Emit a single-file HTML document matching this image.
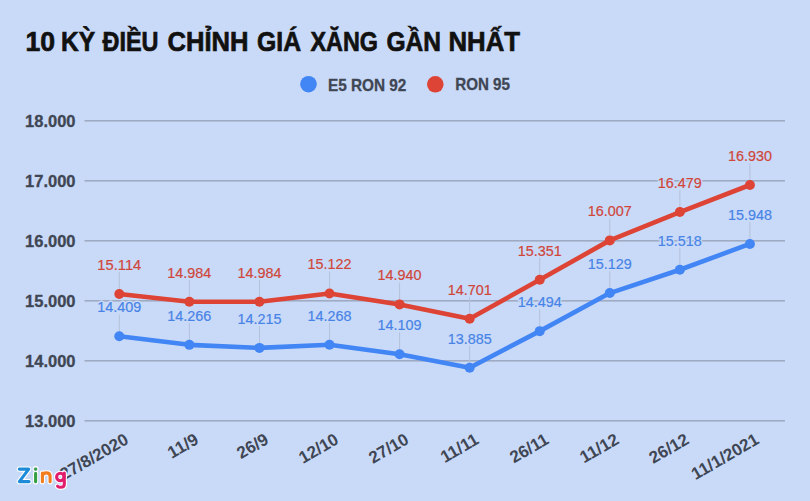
<!DOCTYPE html>
<html><head><meta charset="utf-8">
<style>
html,body{margin:0;padding:0;background:#c9daf8;}
body{width:810px;height:501px;overflow:hidden;position:relative;}
svg{position:absolute;left:0;top:0;}
text{font-family:"Liberation Sans",sans-serif;}
.title{font-size:28px;font-weight:bold;fill:#111;stroke:#111;stroke-width:0.7px;}
.yl{font-size:16.5px;font-weight:bold;fill:#3f4654;stroke:#3f4654;stroke-width:0.3px;}
.lg{font-size:16.5px;font-weight:bold;fill:#3f4654;stroke:#3f4654;stroke-width:0.3px;}
.dla{font-size:15.5px;fill:#c9daf8;stroke:#c9daf8;stroke-width:3px;stroke-linejoin:round;}
.dl{font-size:15.5px;stroke-width:0.2px;}
.xl{font-size:17px;font-weight:bold;fill:#3f4654;}
</style></head>
<body>
<svg width="810" height="501" viewBox="0 0 810 501">
<text x="25.5" y="50.6" class="title" textLength="29.64" lengthAdjust="spacingAndGlyphs">10</text><text x="61.0" y="50.6" class="title" textLength="34.08" lengthAdjust="spacingAndGlyphs">KỲ</text><text x="102.5" y="50.6" class="title" textLength="56.04" lengthAdjust="spacingAndGlyphs">ĐIỀU</text><text x="167.5" y="50.6" class="title" textLength="81.05" lengthAdjust="spacingAndGlyphs">CHỈNH</text><text x="257.0" y="50.6" class="title" textLength="44.05" lengthAdjust="spacingAndGlyphs">GIÁ</text><text x="310.5" y="50.6" class="title" textLength="67.52" lengthAdjust="spacingAndGlyphs">XĂNG</text><text x="386.5" y="50.6" class="title" textLength="54.57" lengthAdjust="spacingAndGlyphs">GẦN</text><text x="448.5" y="50.6" class="title" textLength="71.52" lengthAdjust="spacingAndGlyphs">NHẤT</text>
<circle cx="308.5" cy="84.2" r="8.3" fill="#4285f4"/>
<text x="327.9" y="90.7" class="lg" textLength="78.5" lengthAdjust="spacingAndGlyphs">E5 RON 92</text>
<circle cx="435.3" cy="84.3" r="8.3" fill="#dd4435"/>
<text x="455.2" y="90.4" class="lg" textLength="54.8" lengthAdjust="spacingAndGlyphs">RON 95</text>
<rect x="84.5" y="420.00" width="700.5" height="1.6" fill="#9fabc3"/>
<text x="75.5" y="427.40" text-anchor="end" class="yl">13.000</text>
<rect x="84.5" y="360.00" width="700.5" height="1.6" fill="#9fabc3"/>
<text x="75.5" y="367.40" text-anchor="end" class="yl">14.000</text>
<rect x="84.5" y="300.00" width="700.5" height="1.6" fill="#9fabc3"/>
<text x="75.5" y="307.40" text-anchor="end" class="yl">15.000</text>
<rect x="84.5" y="240.00" width="700.5" height="1.6" fill="#9fabc3"/>
<text x="75.5" y="247.40" text-anchor="end" class="yl">16.000</text>
<rect x="84.5" y="180.00" width="700.5" height="1.6" fill="#9fabc3"/>
<text x="75.5" y="187.40" text-anchor="end" class="yl">17.000</text>
<rect x="84.5" y="120.00" width="700.5" height="1.6" fill="#9fabc3"/>
<text x="75.5" y="127.40" text-anchor="end" class="yl">18.000</text>
<rect x="118.80" y="272.16" width="1" height="21.80" fill="#b4c1da"/>
<rect x="188.87" y="279.96" width="1" height="21.80" fill="#b4c1da"/>
<rect x="258.94" y="279.96" width="1" height="21.80" fill="#b4c1da"/>
<rect x="329.01" y="271.68" width="1" height="21.80" fill="#b4c1da"/>
<rect x="399.08" y="282.60" width="1" height="21.80" fill="#b4c1da"/>
<rect x="469.15" y="296.94" width="1" height="21.80" fill="#b4c1da"/>
<rect x="539.22" y="257.94" width="1" height="21.80" fill="#b4c1da"/>
<rect x="609.29" y="218.58" width="1" height="21.80" fill="#b4c1da"/>
<rect x="679.36" y="190.26" width="1" height="21.80" fill="#b4c1da"/>
<rect x="749.43" y="163.20" width="1" height="21.80" fill="#b4c1da"/>
<rect x="118.80" y="314.46" width="1" height="21.80" fill="#b4c1da"/>
<rect x="188.87" y="323.04" width="1" height="21.80" fill="#b4c1da"/>
<rect x="258.94" y="326.10" width="1" height="21.80" fill="#b4c1da"/>
<rect x="329.01" y="322.92" width="1" height="21.80" fill="#b4c1da"/>
<rect x="399.08" y="332.46" width="1" height="21.80" fill="#b4c1da"/>
<rect x="469.15" y="345.90" width="1" height="21.80" fill="#b4c1da"/>
<rect x="539.22" y="309.36" width="1" height="21.80" fill="#b4c1da"/>
<rect x="609.29" y="271.26" width="1" height="21.80" fill="#b4c1da"/>
<rect x="679.36" y="247.92" width="1" height="21.80" fill="#b4c1da"/>
<rect x="749.43" y="222.12" width="1" height="21.80" fill="#b4c1da"/>
<polyline points="119.30,336.26 189.37,344.84 259.44,347.90 329.51,344.72 399.58,354.26 469.65,367.70 539.72,331.16 609.79,293.06 679.86,269.72 749.93,243.92" fill="none" stroke="#4285f4" stroke-width="4.6" stroke-linejoin="round" stroke-linecap="round"/><circle cx="119.30" cy="336.26" r="5" fill="#4285f4"/><circle cx="189.37" cy="344.84" r="5" fill="#4285f4"/><circle cx="259.44" cy="347.90" r="5" fill="#4285f4"/><circle cx="329.51" cy="344.72" r="5" fill="#4285f4"/><circle cx="399.58" cy="354.26" r="5" fill="#4285f4"/><circle cx="469.65" cy="367.70" r="5" fill="#4285f4"/><circle cx="539.72" cy="331.16" r="5" fill="#4285f4"/><circle cx="609.79" cy="293.06" r="5" fill="#4285f4"/><circle cx="679.86" cy="269.72" r="5" fill="#4285f4"/><circle cx="749.93" cy="243.92" r="5" fill="#4285f4"/>
<polyline points="119.30,293.96 189.37,301.76 259.44,301.76 329.51,293.48 399.58,304.40 469.65,318.74 539.72,279.74 609.79,240.38 679.86,212.06 749.93,185.00" fill="none" stroke="#dd4435" stroke-width="4.6" stroke-linejoin="round" stroke-linecap="round"/><circle cx="119.30" cy="293.96" r="5" fill="#dd4435"/><circle cx="189.37" cy="301.76" r="5" fill="#dd4435"/><circle cx="259.44" cy="301.76" r="5" fill="#dd4435"/><circle cx="329.51" cy="293.48" r="5" fill="#dd4435"/><circle cx="399.58" cy="304.40" r="5" fill="#dd4435"/><circle cx="469.65" cy="318.74" r="5" fill="#dd4435"/><circle cx="539.72" cy="279.74" r="5" fill="#dd4435"/><circle cx="609.79" cy="240.38" r="5" fill="#dd4435"/><circle cx="679.86" cy="212.06" r="5" fill="#dd4435"/><circle cx="749.93" cy="185.00" r="5" fill="#dd4435"/>
<text x="119.30" y="269.96" text-anchor="middle" class="dla" textLength="44" lengthAdjust="spacingAndGlyphs">15.114</text>
<text x="189.37" y="277.76" text-anchor="middle" class="dla" textLength="44" lengthAdjust="spacingAndGlyphs">14.984</text>
<text x="259.44" y="277.76" text-anchor="middle" class="dla" textLength="44" lengthAdjust="spacingAndGlyphs">14.984</text>
<text x="329.51" y="269.48" text-anchor="middle" class="dla" textLength="44" lengthAdjust="spacingAndGlyphs">15.122</text>
<text x="399.58" y="280.40" text-anchor="middle" class="dla" textLength="44" lengthAdjust="spacingAndGlyphs">14.940</text>
<text x="469.65" y="294.74" text-anchor="middle" class="dla" textLength="44" lengthAdjust="spacingAndGlyphs">14.701</text>
<text x="539.72" y="255.74" text-anchor="middle" class="dla" textLength="44" lengthAdjust="spacingAndGlyphs">15.351</text>
<text x="609.79" y="216.38" text-anchor="middle" class="dla" textLength="44" lengthAdjust="spacingAndGlyphs">16.007</text>
<text x="679.86" y="188.06" text-anchor="middle" class="dla" textLength="44" lengthAdjust="spacingAndGlyphs">16.479</text>
<text x="749.93" y="161.00" text-anchor="middle" class="dla" textLength="44" lengthAdjust="spacingAndGlyphs">16.930</text>
<text x="119.30" y="312.26" text-anchor="middle" class="dla" textLength="44" lengthAdjust="spacingAndGlyphs">14.409</text>
<text x="189.37" y="320.84" text-anchor="middle" class="dla" textLength="44" lengthAdjust="spacingAndGlyphs">14.266</text>
<text x="259.44" y="323.90" text-anchor="middle" class="dla" textLength="44" lengthAdjust="spacingAndGlyphs">14.215</text>
<text x="329.51" y="320.72" text-anchor="middle" class="dla" textLength="44" lengthAdjust="spacingAndGlyphs">14.268</text>
<text x="399.58" y="330.26" text-anchor="middle" class="dla" textLength="44" lengthAdjust="spacingAndGlyphs">14.109</text>
<text x="469.65" y="343.70" text-anchor="middle" class="dla" textLength="44" lengthAdjust="spacingAndGlyphs">13.885</text>
<text x="539.72" y="307.16" text-anchor="middle" class="dla" textLength="44" lengthAdjust="spacingAndGlyphs">14.494</text>
<text x="609.79" y="269.06" text-anchor="middle" class="dla" textLength="44" lengthAdjust="spacingAndGlyphs">15.129</text>
<text x="679.86" y="245.72" text-anchor="middle" class="dla" textLength="44" lengthAdjust="spacingAndGlyphs">15.518</text>
<text x="749.93" y="219.92" text-anchor="middle" class="dla" textLength="44" lengthAdjust="spacingAndGlyphs">15.948</text>
<text x="119.30" y="269.96" text-anchor="middle" class="dl" fill="#cf463a" stroke="#cf463a" textLength="44" lengthAdjust="spacingAndGlyphs">15.114</text>
<text x="189.37" y="277.76" text-anchor="middle" class="dl" fill="#cf463a" stroke="#cf463a" textLength="44" lengthAdjust="spacingAndGlyphs">14.984</text>
<text x="259.44" y="277.76" text-anchor="middle" class="dl" fill="#cf463a" stroke="#cf463a" textLength="44" lengthAdjust="spacingAndGlyphs">14.984</text>
<text x="329.51" y="269.48" text-anchor="middle" class="dl" fill="#cf463a" stroke="#cf463a" textLength="44" lengthAdjust="spacingAndGlyphs">15.122</text>
<text x="399.58" y="280.40" text-anchor="middle" class="dl" fill="#cf463a" stroke="#cf463a" textLength="44" lengthAdjust="spacingAndGlyphs">14.940</text>
<text x="469.65" y="294.74" text-anchor="middle" class="dl" fill="#cf463a" stroke="#cf463a" textLength="44" lengthAdjust="spacingAndGlyphs">14.701</text>
<text x="539.72" y="255.74" text-anchor="middle" class="dl" fill="#cf463a" stroke="#cf463a" textLength="44" lengthAdjust="spacingAndGlyphs">15.351</text>
<text x="609.79" y="216.38" text-anchor="middle" class="dl" fill="#cf463a" stroke="#cf463a" textLength="44" lengthAdjust="spacingAndGlyphs">16.007</text>
<text x="679.86" y="188.06" text-anchor="middle" class="dl" fill="#cf463a" stroke="#cf463a" textLength="44" lengthAdjust="spacingAndGlyphs">16.479</text>
<text x="749.93" y="161.00" text-anchor="middle" class="dl" fill="#cf463a" stroke="#cf463a" textLength="44" lengthAdjust="spacingAndGlyphs">16.930</text>
<text x="119.30" y="312.26" text-anchor="middle" class="dl" fill="#4783e6" stroke="#4783e6" textLength="44" lengthAdjust="spacingAndGlyphs">14.409</text>
<text x="189.37" y="320.84" text-anchor="middle" class="dl" fill="#4783e6" stroke="#4783e6" textLength="44" lengthAdjust="spacingAndGlyphs">14.266</text>
<text x="259.44" y="323.90" text-anchor="middle" class="dl" fill="#4783e6" stroke="#4783e6" textLength="44" lengthAdjust="spacingAndGlyphs">14.215</text>
<text x="329.51" y="320.72" text-anchor="middle" class="dl" fill="#4783e6" stroke="#4783e6" textLength="44" lengthAdjust="spacingAndGlyphs">14.268</text>
<text x="399.58" y="330.26" text-anchor="middle" class="dl" fill="#4783e6" stroke="#4783e6" textLength="44" lengthAdjust="spacingAndGlyphs">14.109</text>
<text x="469.65" y="343.70" text-anchor="middle" class="dl" fill="#4783e6" stroke="#4783e6" textLength="44" lengthAdjust="spacingAndGlyphs">13.885</text>
<text x="539.72" y="307.16" text-anchor="middle" class="dl" fill="#4783e6" stroke="#4783e6" textLength="44" lengthAdjust="spacingAndGlyphs">14.494</text>
<text x="609.79" y="269.06" text-anchor="middle" class="dl" fill="#4783e6" stroke="#4783e6" textLength="44" lengthAdjust="spacingAndGlyphs">15.129</text>
<text x="679.86" y="245.72" text-anchor="middle" class="dl" fill="#4783e6" stroke="#4783e6" textLength="44" lengthAdjust="spacingAndGlyphs">15.518</text>
<text x="749.93" y="219.92" text-anchor="middle" class="dl" fill="#4783e6" stroke="#4783e6" textLength="44" lengthAdjust="spacingAndGlyphs">15.948</text>
<text transform="translate(129.60,442.80) rotate(-30)" text-anchor="end" class="xl">27/8/2020</text>
<text transform="translate(199.67,442.80) rotate(-30)" text-anchor="end" class="xl">11/9</text>
<text transform="translate(269.74,442.80) rotate(-30)" text-anchor="end" class="xl">26/9</text>
<text transform="translate(339.81,442.80) rotate(-30)" text-anchor="end" class="xl">12/10</text>
<text transform="translate(409.88,442.80) rotate(-30)" text-anchor="end" class="xl">27/10</text>
<text transform="translate(479.95,442.80) rotate(-30)" text-anchor="end" class="xl">11/11</text>
<text transform="translate(550.02,442.80) rotate(-30)" text-anchor="end" class="xl">26/11</text>
<text transform="translate(620.09,442.80) rotate(-30)" text-anchor="end" class="xl">11/12</text>
<text transform="translate(690.16,442.80) rotate(-30)" text-anchor="end" class="xl">26/12</text>
<text transform="translate(760.23,442.80) rotate(-30)" text-anchor="end" class="xl">11/1/2021</text>
<g id="zing" fill="none" stroke-linecap="round" stroke-linejoin="round">
<g stroke="#ffffff" stroke-width="5.2">
<path d="M19.3,469.1 H28.7 L19.3,481.6 H29.1"/>
<path d="M35.6,473.4 V481.8"/><circle cx="35.6" cy="469.1" r="0.4"/>
<path d="M42.4,481.8 V473 M42.4,476.2 Q42.6,472.9 46.3,472.9 Q50.1,472.9 50.1,476.2 V481.8"/>
<circle cx="60.3" cy="477" r="3.7"/><path d="M64.3,473 V484.2 Q64.3,487.3 60.8,487.3 Q58.6,487.3 57.6,486.2"/>
</g>
<path stroke="#1d8bd8" stroke-width="3.1" d="M19.3,469.1 H28.7 L19.3,481.6 H29.1"/>
<path stroke="#34a043" stroke-width="3.1" d="M35.6,473.4 V481.8"/><circle fill="#34a043" cx="35.6" cy="469.1" r="1.6"/>
<path stroke="#f27d1f" stroke-width="3.1" d="M42.4,481.8 V473 M42.4,476.2 Q42.6,472.9 46.3,472.9 Q50.1,472.9 50.1,476.2 V481.8"/>
<circle stroke="#e11e6c" stroke-width="3.1" cx="60.3" cy="477" r="3.7"/><path stroke="#e11e6c" stroke-width="3.1" d="M64.3,473 V484.2 Q64.3,487.3 60.8,487.3 Q58.6,487.3 57.6,486.2"/>
</g>
</svg>
</body></html>
